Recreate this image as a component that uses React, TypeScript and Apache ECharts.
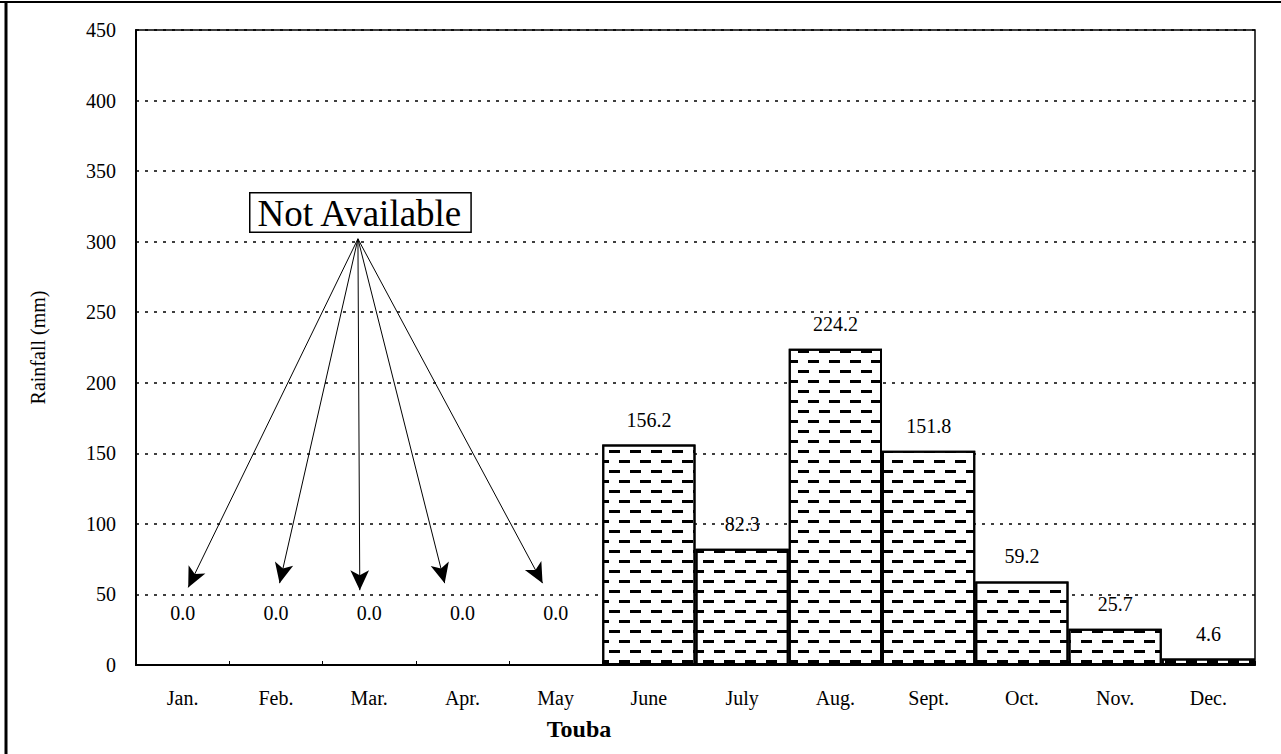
import React, { useEffect, useRef } from "react";
import * as echarts from "echarts";

const months = ["Jan.", "Feb.", "Mar.", "Apr.", "May", "June", "July", "Aug.", "Sept.", "Oct.", "Nov.", "Dec."];
const rainfall = [0, 0, 0, 0, 0, 156.2, 82.3, 224.2, 151.8, 59.2, 25.7, 4.6];
const yTicks = { min: 0, max: 450, interval: 50 };
// "Not Available" arrows: start point and end points (month position, value)
const arrowStart: [number, number] = [1.88, 302];
const arrowEnds: [number, number][] = [
  [0.06, 55],
  [1.04, 58],
  [1.9, 53],
  [2.81, 58],
  [3.86, 58],
];
const SERIF = "'Liberation Serif', 'Times New Roman', serif";

export default function App() {
  const ref = useRef<HTMLDivElement>(null);
  useEffect(() => {
    if (!ref.current) return;
    const chart = echarts.init(ref.current, null, { renderer: "svg" });
    const data = rainfall.map((v) => ({
      value: v,
      label: { distance: v === 0 ? 41 : 15 },
    }));
    chart.setOption({
      animation: false,
      backgroundColor: "#fff",
      textStyle: { fontFamily: SERIF, color: "#000" },
      grid: {
        left: 136,
        right: 26,
        top: 30,
        bottom: 89,
        show: true,
        borderColor: "#000",
        borderWidth: 1.5,
        containLabel: false,
      },
      xAxis: [
        {
          type: "category",
          data: months,
          axisLine: { lineStyle: { color: "#000", width: 2 } },
          axisTick: { show: true, inside: true, length: 4, lineStyle: { color: "#000" } },
          axisLabel: { fontFamily: SERIF, fontSize: 20, color: "#000", margin: 23 },
        },
        {
          type: "value",
          min: -0.5,
          max: 11.5,
          show: false,
          position: "bottom",
        },
      ],
      yAxis: {
        type: "value",
        min: yTicks.min,
        max: yTicks.max,
        interval: yTicks.interval,
        name: "Rainfall (mm)",
        nameLocation: "middle",
        nameGap: 88,
        nameTextStyle: { fontFamily: SERIF, fontSize: 20, color: "#000" },
        axisLine: { show: true, onZero: false, lineStyle: { color: "#000", width: 2 } },
        axisTick: { show: false },
        axisLabel: { fontFamily: SERIF, fontSize: 20, color: "#000", margin: 20 },
        splitLine: {
          show: true,
          lineStyle: { color: "#000", type: [3, 6], width: 1.5 },
        },
      },
      title: {
        text: "Touba",
        left: 574,
        top: 712,
        textAlign: "center",
        textStyle: { fontFamily: SERIF, fontSize: 24, fontWeight: "bold", color: "#000" },
      },
      graphic: [
        { type: "line", shape: { x1: 0, y1: 2, x2: 1281, y2: 2 }, style: { stroke: "#000", lineWidth: 2 } },
        { type: "line", shape: { x1: 6, y1: 2, x2: 6, y2: 754 }, style: { stroke: "#000", lineWidth: 3 } },
        {
          type: "text",
          left: 249,
          top: 192,
          z: 100,
          style: {
            text: "Not Available",
            font: "37px " + SERIF,
            fill: "#000",
            backgroundColor: "#fff",
            borderColor: "#000",
            borderWidth: 1.5,
            padding: [1, 7, 0, 7],
          },
        },
      ],
      series: [
        {
          type: "bar",
          data,
          barWidth: "100%",
          itemStyle: {
            color: "#fff",
            borderColor: "#000",
            borderWidth: 2,
            decal: {
              symbol: "rect",
              symbolSize: 1,
              color: "#000",
              backgroundColor: null,
              dashArrayX: [[11, 10], [0, 10, 11, 0]],
              dashArrayY: [3, 7],
              rotation: 0,
            },
          },
          label: {
            show: true,
            position: "top",
            fontFamily: SERIF,
            fontSize: 20,
            color: "#000",
            formatter: (p: any) => Number(p.value).toFixed(1),
          },
        },
        {
          type: "line",
          xAxisIndex: 1,
          data: [arrowStart],
          showSymbol: false,
          silent: true,
          lineStyle: { opacity: 0 },
          markLine: {
            silent: true,
            symbol: ["none", "arrow"],
            symbolSize: [14, 20],
            label: { show: false },
            lineStyle: { color: "#000", width: 1, type: "solid" },
            data: arrowEnds.map((e) => [{ coord: arrowStart }, { coord: e }]),
          },
        },
      ],
    });
    return () => chart.dispose();
  }, []);
  return (
    <div
      ref={ref}
      style={{ position: "fixed", left: 0, top: 0, width: 1281, height: 754 }}
    />
  );
}
